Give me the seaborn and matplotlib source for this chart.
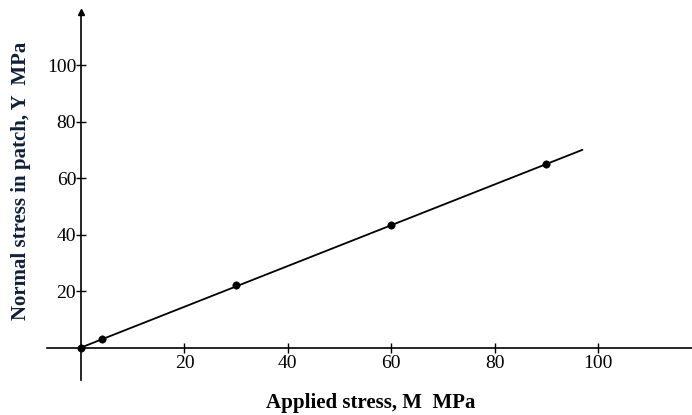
import matplotlib
matplotlib.use("Agg")
import matplotlib.pyplot as plt
import seaborn as sns

# data
applied = [0, 4, 30, 60, 90]
patch = [0, 3.1, 22, 43.5, 65]
fit_x = [0, 97]
fit_y = [0, 70]
x_ticks = [20, 40, 60, 80, 100]
y_ticks = [20, 40, 60, 80, 100]

sns.set_style("white")
plt.rcParams["font.family"] = ["Liberation Serif", "DejaVu Serif"]

fig = plt.figure(figsize=(6.92, 4.15), dpi=100)
ax = fig.add_axes([47 / 692, 35 / 415, 645 / 692, 368 / 415])

sns.lineplot(x=fit_x, y=fit_y, ax=ax, color="black", linewidth=1.3)
sns.scatterplot(x=applied, y=patch, ax=ax, color="black", s=28,
                edgecolor="black", zorder=5, clip_on=False)

ax.set_xlim(-6.6, 118.2)
ax.set_ylim(-11.5, 118.8)

for side in ("top", "right"):
    ax.spines[side].set_visible(False)
for side in ("left", "bottom"):
    ax.spines[side].set_position(("data", 0))
    ax.spines[side].set_color("black")
    ax.spines[side].set_linewidth(1.2)

# arrow head on top of y axis
ax.plot([0], [118.8], marker="^", color="black", markersize=5, clip_on=False)

ax.set_xticks(x_ticks)
ax.set_yticks(y_ticks)
ax.tick_params(axis="both", direction="inout", length=7, width=1,
               color="black", labelsize=14, labelcolor="black",
               bottom=True, left=True)
ax.tick_params(axis="x", pad=2)
ax.tick_params(axis="y", pad=0)

fig.text(0.536, 0.029, "Applied stress, M  MPa", ha="center", va="center",
         fontsize=15, fontweight="bold", color="black")
fig.text(0.03, 0.564, "Normal stress in patch, Y  MPa", ha="center",
         va="center", rotation=90, fontsize=15, fontweight="bold",
         color="#10203a")

fig.savefig("out.png", dpi=100)
plt.close(fig)
